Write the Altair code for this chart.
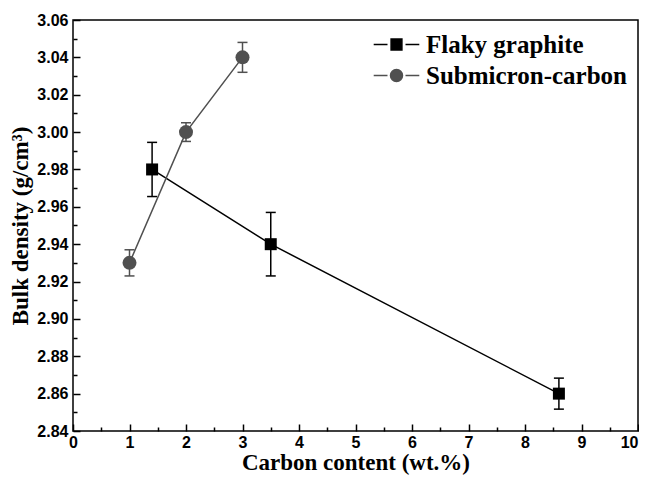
import altair as alt
import pandas as pd

# ---- data ----
series_names = ["Flaky graphite", "Submicron-carbon"]

flaky_x = [1.4, 3.5, 8.6]
flaky_y = [2.98, 2.94, 2.86]
flaky_err = [0.0145, 0.017, 0.0083]

sub_x = [1.0, 2.0, 3.0]
sub_y = [2.93, 3.00, 3.04]
sub_err = [0.007, 0.005, 0.008]

x_ticks = [0, 0.5, 1, 1.5, 2, 2.5, 3, 3.5, 4, 4.5, 5, 5.5, 6, 6.5, 7, 7.5, 8, 8.5, 9, 9.5, 10]
y_ticks = [2.84, 2.85, 2.86, 2.87, 2.88, 2.89, 2.90, 2.91, 2.92, 2.93, 2.94, 2.95,
           2.96, 2.97, 2.98, 2.99, 3.00, 3.01, 3.02, 3.03, 3.04, 3.05, 3.06]

rows = []
for name, xs, ys, es in [(series_names[0], flaky_x, flaky_y, flaky_err),
                         (series_names[1], sub_x, sub_y, sub_err)]:
    for i, (x, y, e) in enumerate(zip(xs, ys, es)):
        rows.append({"series": name, "x": x, "y": y, "lo": y - e, "hi": y + e, "order": i})
df = pd.DataFrame(rows)

colors = ["#000000", "#505050"]
LABEL_FONT = "Liberation Sans Narrow, Arial Narrow, Liberation Sans, Arial"
TITLE_FONT = "Liberation Serif, Times New Roman, serif"

sq_path = "M-3.8,0H-1.5M1.5,0H3.8M-0.9,-0.9H0.9V0.9H-0.9Z"
ci_path = "M-3.8,0H-1.5M1.5,0H3.8M-1,0A1,1,0,1,1,1,0A1,1,0,1,1,-1,0Z"

x_scale = alt.Scale(domain=[0, 10], nice=False, zero=False)
y_scale = alt.Scale(domain=[2.84, 3.06], nice=False, zero=False)

# ticks point inward: the axis is pulled 7px inside the frame and its 7px ticks reach back to the frame
x_axis = alt.Axis(
    title="Carbon content (wt.%)",
    values=x_ticks,
    labelExpr="datum.value % 1 === 0 ? format(datum.value, 'd') : ''",
    labelAlign={"expr": "datum.value >= 10 ? 'right' : 'center'"},
    offset=-7, domain=False,
    ticks=True, tickSize=7, labelPadding=3, titlePadding=1,
    tickColor="black", tickWidth=1.5, tickOpacity=1, zindex=2,
    tickDash={"condition": {"test": "datum.value % 1 === 0", "value": [7, 100]}, "value": [0, 3, 4, 100]},
    labelOverlap=False, labelFlush=False, grid=False,
)
y_axis = alt.Axis(
    title="Bulk density (g/cm³)",
    values=y_ticks,
    labelExpr="round(datum.value * 100) % 2 === 0 ? format(datum.value, '.2f') : ''",
    offset=-7, domain=False,
    ticks=True, tickSize=7, labelPadding=5, titlePadding=4,
    tickColor="black", tickWidth=1.5, tickOpacity=1, zindex=2,
    tickDash={"condition": {"test": "round(datum.value * 100) % 2 === 0", "value": [7, 100]}, "value": [0, 3, 4, 100]},
    labelOverlap=False, labelFlush=False, grid=False,
)

X = alt.X("x:Q", scale=x_scale, axis=x_axis)
Y = alt.Y("y:Q", scale=y_scale, axis=y_axis)

color_scale = alt.Scale(domain=series_names, range=colors)
color_enc_nolegend = alt.Color("series:N", scale=color_scale, legend=None)

base = alt.Chart(df)

lines = base.mark_line(strokeWidth=1.5).encode(
    x=X, y=Y, order="order:Q", color=color_enc_nolegend,
)

bars = base.mark_rule(strokeWidth=1.5).encode(
    x=X, y=alt.Y("lo:Q", scale=y_scale, axis=y_axis), y2="hi:Q", color=color_enc_nolegend,
)

caps = base.transform_fold(["lo", "hi"], as_=["end", "val"]).mark_tick(
    orient="horizontal", size=10, thickness=1.5, opacity=1
).encode(
    x=X, y=alt.Y("val:Q", scale=y_scale, axis=y_axis), color=color_enc_nolegend,
)

points = base.mark_point(filled=True, opacity=1).encode(
    x=X, y=Y,
    color=color_enc_nolegend,
    shape=alt.Shape("series:N", scale=alt.Scale(domain=series_names, range=["square", "circle"]), legend=None),
    size=alt.Size("series:N", scale=alt.Scale(domain=series_names, range=[144, 196]), legend=None),
)

common_legend = dict(
    title=None, orient="none",
    labelFont=TITLE_FONT, labelFontSize=25, labelFontWeight="bold", labelColor="black",
    labelLimit=400, symbolSize=144, symbolStrokeWidth=1.5, symbolOffset=23, labelOffset=17,
    padding=0,
)

legend_a = alt.Legend(legendX=288, legendY=12, symbolType=sq_path,
                      symbolFillColor=colors[0], symbolStrokeColor=colors[0], **common_legend)
legend_b = alt.Legend(legendX=288, legendY=43, symbolType=ci_path,
                      symbolFillColor=colors[1], symbolStrokeColor=colors[1], **common_legend)

legend_layer_a = base.transform_filter("false").mark_point(
    filled=True, opacity=1, size=144, strokeWidth=1.5, stroke=colors[0]
).encode(
    x=X, y=Y,
    fill=alt.Fill("series:N", scale=alt.Scale(domain=[series_names[0]], range=[colors[0]]), legend=legend_a),
)

legend_layer_b = base.transform_filter("false").mark_point(
    filled=True, opacity=1, size=144, strokeWidth=1.5, fill=colors[1]
).encode(
    x=X, y=Y,
    stroke=alt.Stroke("series:N", scale=alt.Scale(domain=[series_names[1]], range=[colors[1]]), legend=legend_b),
)

chart = alt.layer(lines, bars, caps, points, legend_layer_a, legend_layer_b).properties(
    width=565, height=411,
    autosize=alt.AutoSizeParams(type="none"),
    padding={"left": 65, "top": 12, "right": 1, "bottom": 47},
).configure_view(
    stroke="black", strokeWidth=1.5
).configure_axis(
    labelFont=LABEL_FONT, labelFontSize=16, labelFontWeight="bold", labelColor="black",
    titleFont=TITLE_FONT, titleFontSize=23, titleFontWeight="bold", titleColor="black",
)

chart.save("out.html", embed_options={"renderer": "svg", "actions": False})
